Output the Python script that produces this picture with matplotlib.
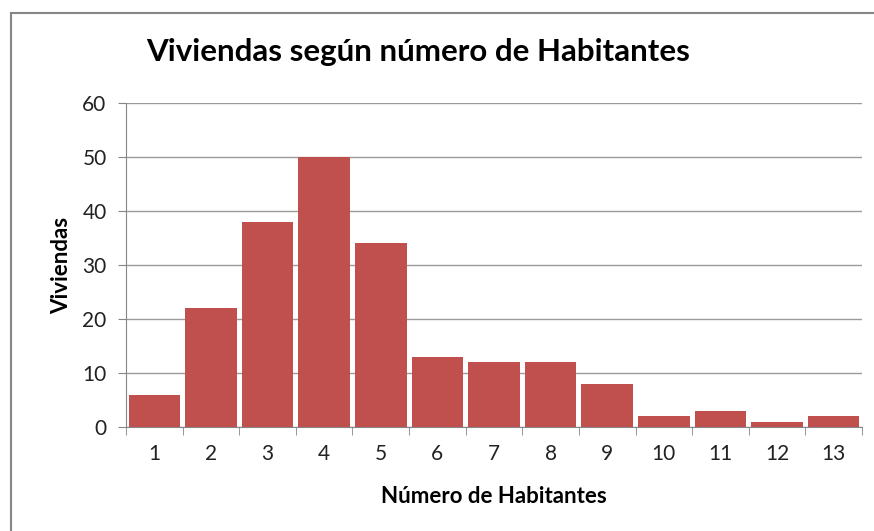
import numpy as np
import matplotlib
matplotlib.use("Agg")
import matplotlib.pyplot as plt
from matplotlib.lines import Line2D

categorias = ["1", "2", "3", "4", "5", "6", "7", "8", "9", "10", "11", "12", "13"]
viviendas = [6, 22, 38, 50, 34, 13, 12, 12, 8, 2, 3, 1, 2]
yticks = [0, 10, 20, 30, 40, 50, 60]

plt.rcParams['font.family'] = ['Lato', 'DejaVu Sans']

fig = plt.figure(figsize=(8.74, 5.31), dpi=100)
ax = fig.add_axes([126/874, 1-427/531, (862-126)/874, (427-103)/531])

x = np.arange(len(categorias))
ax.bar(x, viviendas, width=0.91, color='#C0504D', zorder=3)

ax.set_xlim(-0.5, len(categorias) - 0.5)
ax.set_ylim(0, 60)
ax.set_yticks(yticks)
ax.set_yticklabels([str(v) for v in yticks], fontsize=15, color='#222222')
ax.set_xticks(x)
ax.set_xticklabels(categorias, fontsize=15, color='#222222')
ax.tick_params(axis='x', length=0, pad=12)
ax.tick_params(axis='y', length=6, color='#868686', pad=8)

# category boundary ticks on x axis
ax.set_xticks(np.arange(-0.5, len(categorias)), minor=True)
ax.tick_params(axis='x', which='minor', length=6, color='#868686', direction='out')

ax.grid(axis='y', color='#9a9a9a', linewidth=1, zorder=0)
for s in ['top', 'right']:
    ax.spines[s].set_visible(False)
for s in ['left', 'bottom']:
    ax.spines[s].set_color('#868686')

ax.set_ylabel('Viviendas', fontsize=16, fontweight='bold', labelpad=7)
ax.set_xlabel('Número de Habitantes', fontsize=16, fontweight='bold', labelpad=16)

fig.text(418/874, 1-52/531, 'Viviendas según número de Habitantes',
         fontsize=22.5, fontweight='bold', ha='center', va='center')

# chart border (left and top visible)
fig.add_artist(Line2D([11/874, 11/874], [0, 1-13/531], transform=fig.transFigure,
                      color='#868686', linewidth=1.5))
fig.add_artist(Line2D([11/874, 1], [1-13/531, 1-13/531], transform=fig.transFigure,
                      color='#868686', linewidth=1.5))

fig.savefig('out.png', dpi=100)
